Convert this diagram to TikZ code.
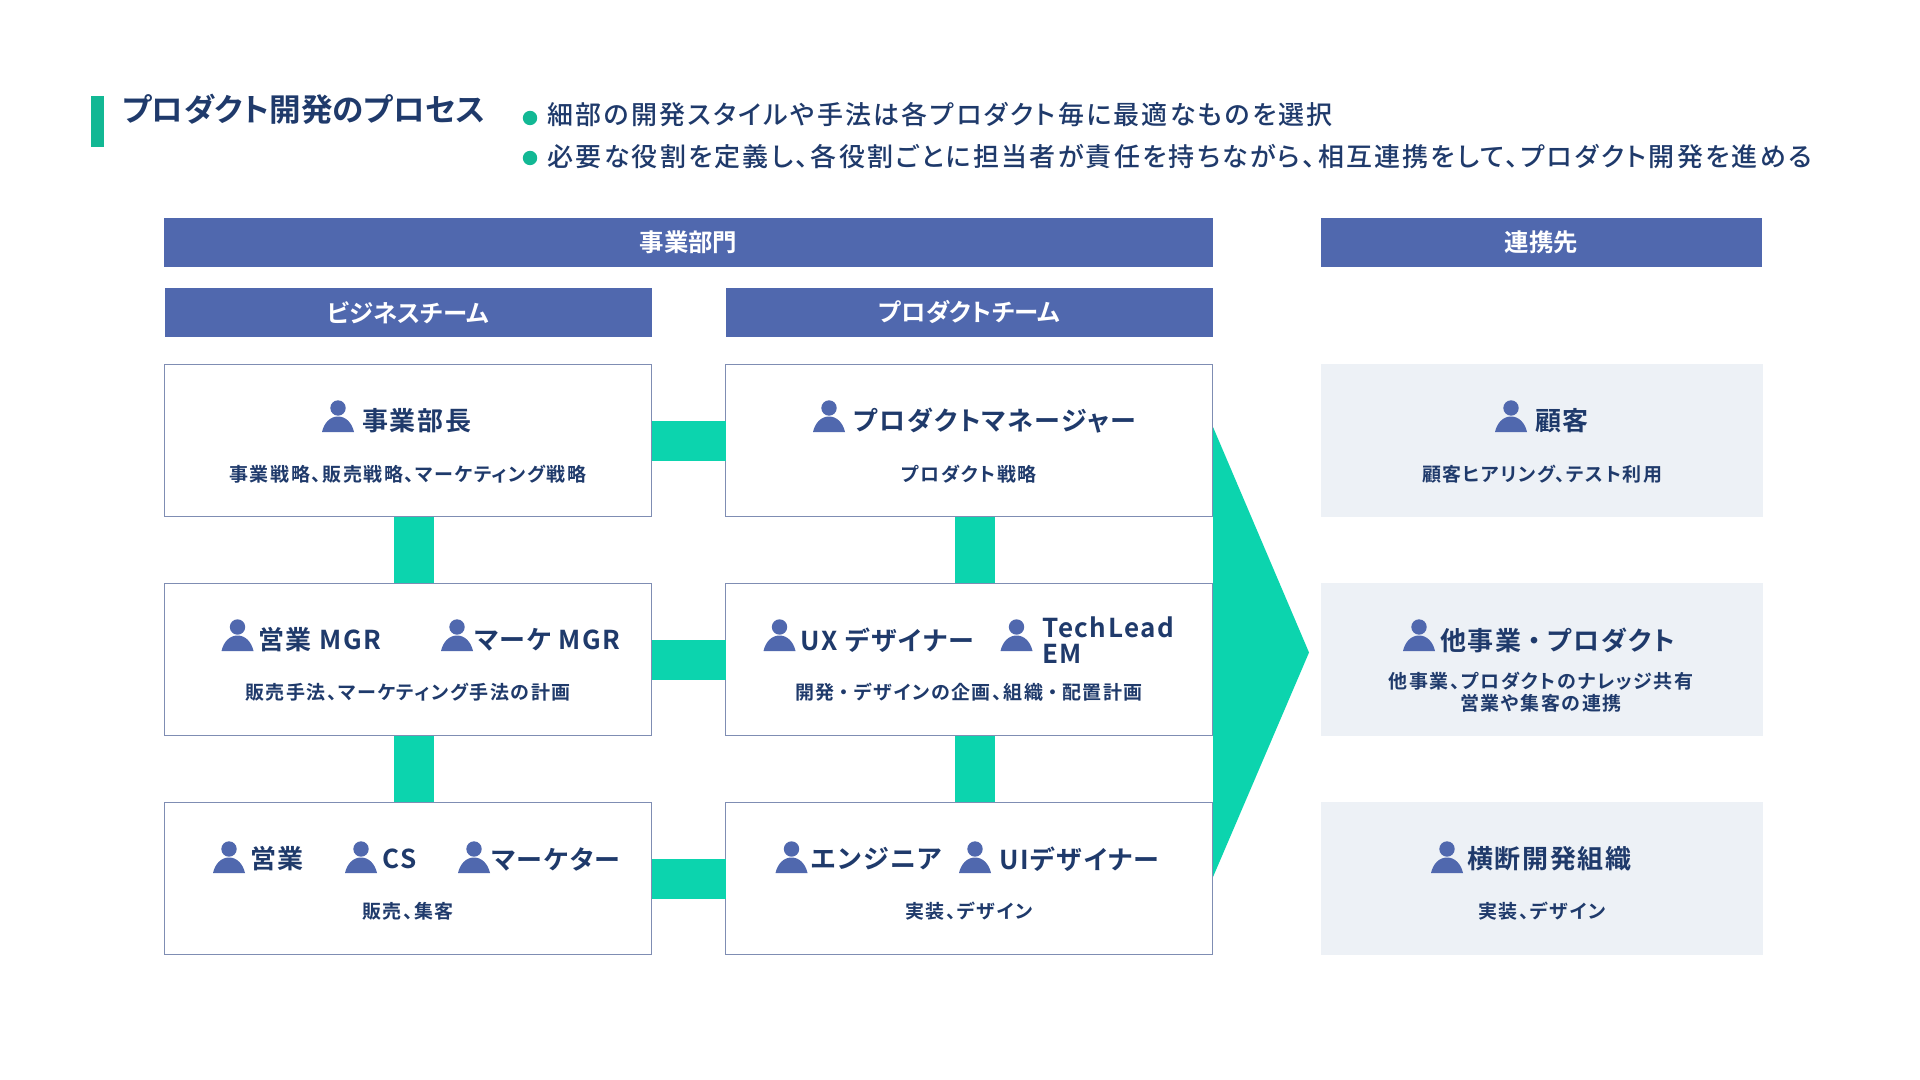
\documentclass[tikz,border=0pt]{standalone}
\usepackage{fontspec}
\setmainfont{Noto Sans CJK JP}[BoldFont={Noto Sans CJK JP Bold},RawFeature=+palt]
\newfontfamily\rolefont{Noto Sans CJK JP}[BoldFont={Noto Sans CJK JP Bold},RawFeature=+palt,LetterSpace=6]
\newfontfamily\pointfont{Noto Sans CJK JP Medium}[RawFeature=+palt,LetterSpace=8.8]
\newfontfamily\dutyfont{Noto Sans CJK JP}[BoldFont={Noto Sans CJK JP Bold},RawFeature=+palt,LetterSpace=8]
\newcommand{\widedot}{\hspace{.25em}・\hspace{.25em}}
\definecolor{navy}{HTML}{1F3A6B}
\definecolor{barblue}{HTML}{5068AE}
\definecolor{mint}{HTML}{0CD4AE}
\definecolor{accent}{HTML}{12B894}
\definecolor{edge}{HTML}{7F8DB3}
\definecolor{pale}{HTML}{EDF1F6}
\tikzset{
  head/.style={fill=barblue,text=white,inner sep=0pt,outer sep=0pt,minimum height=24.5pt,font=\fontsize{12.2}{14}\selectfont\bfseries},
  rolebox/.style={draw=edge,line width=0.5pt,fill=white,inner sep=0pt,outer sep=0pt,minimum width=243.5pt,minimum height=76.25pt},
  partnerbox/.style={fill=pale,inner sep=0pt,outer sep=0pt,minimum width=221pt,minimum height=76.5pt},
  role/.style={anchor=west,inner sep=0pt,text=navy,font=\rolefont\fontsize{13}{13}\selectfont\bfseries},
  duty/.style={inner sep=0pt,text=navy,align=center,font=\dutyfont\fontsize{9.5}{11}\selectfont\bfseries},
  point/.style={anchor=west,inner sep=0pt,text=navy,font=\pointfont\fontsize{13}{13}\selectfont},
  linkbar/.style={mint,line width=20pt},
  person/.pic={
    \fill[barblue] (0,-24) circle (3.85pt);
    \fill[barblue] (-16,0) .. controls (-14,-9) and (-8,-15.5) .. (0,-15.5) .. controls (8,-15.5) and (14,-9) .. (16,0) -- cycle;
  }
}
\begin{document}
\begin{tikzpicture}[x=0.5pt,y=-0.5pt]
  \useasboundingbox (0,0) rectangle (1920,1080);

  \fill[accent] (91,96) rectangle (104,147);
  \node[anchor=west,inner sep=0pt,text=navy,font=\fontsize{15.8}{16}\selectfont\bfseries] (title) at (122,109.5) {プロダクト開発のプロセス};
  \fill[accent] (530,118) circle (3.6pt);
  \fill[accent] (530,158) circle (3.6pt);
  \node[point] (point1) at (547,115) {細部の開発スタイルや手法は各プロダクト毎に最適なものを選択};
  \node[point] (point2) at (547,157) {必要な役割を定義し、各役割ごとに担当者が責任を持ちながら、相互連携をして、プロダクト開発を進める};

  \node[head,minimum width=524.5pt] (dept) at (688.5,242.5) {事業部門};
  \node[head,minimum width=220.5pt] (partner) at (1541.5,242.5) {連携先};
  \node[head,minimum width=243.5pt] (bizteam) at (408,312.5) {ビジネスチーム};
  \node[head,minimum width=243.5pt] (prodteam) at (969.25,312.5) {プロダクトチーム};

  \coordinate (linkl) at (413.5,0);
  \coordinate (linkr) at (974.5,0);
  \coordinate (arrowtop) at (1213,427);
  \coordinate (arrowtip) at (1309,652.5);
  \coordinate (arrowbot) at (1213,877);
  \fill[mint] (arrowtop) -- (arrowtip) -- (arrowbot) -- cycle;

  \node[rolebox] (biz1) at (408,440.5) {};
  \node[rolebox] (biz2) at (408,659.5) {};
  \node[rolebox] (biz3) at (408,878.5) {};
  \node[rolebox] (prod1) at (969.25,440.5) {};
  \node[rolebox] (prod2) at (969.25,659.5) {};
  \node[rolebox] (prod3) at (969.25,878.5) {};
  \node[partnerbox] (part1) at (1542,440.5) {};
  \node[partnerbox] (part2) at (1542,659.5) {};
  \node[partnerbox] (part3) at (1542,878.5) {};

  \draw[linkbar] (biz1.east) -- (prod1.west);
  \draw[linkbar] (biz2.east) -- (prod2.west);
  \draw[linkbar] (biz3.east) -- (prod3.west);
  \draw[linkbar] (biz1.south -| linkl) -- (biz2.north -| linkl);
  \draw[linkbar] (biz2.south -| linkl) -- (biz3.north -| linkl);
  \draw[linkbar] (prod1.south -| linkr) -- (prod2.north -| linkr);
  \draw[linkbar] (prod2.south -| linkr) -- (prod3.north -| linkr);

  % first row
  \pic at (338,432) {person};
  \node[role] (bizlead) at (362,421) {事業部長};
  \node[duty] (bizduty1) at (408,474) {事業戦略、販売戦略、マーケティング戦略};
  \pic at (829,432) {person};
  \node[role] (pm) at (853,421) {プロダクトマネージャー};
  \node[duty] (prodduty1) at (969,474) {プロダクト戦略};
  \pic at (1511,432) {person};
  \node[role] (client) at (1535,421) {顧客};
  \node[duty] (partduty1) at (1542,474) {顧客ヒアリング、テスト利用};

  % second row
  \pic at (237.5,651) {person};
  \node[role] (salesmgr) at (258,640) {営業 MGR};
  \pic at (457,651) {person};
  \node[role] (markemgr) at (474,640) {マーケ MGR};
  \node[duty] (bizduty2) at (408,692) {販売手法、マーケティング手法の計画};
  \pic at (779.5,651) {person};
  \node[role] (uxd) at (800,640) {UX デザイナー};
  \pic at (1016.5,651) {person};
  \node[role,align=left,font=\rolefont\fontsize{13}{12.7}\selectfont\bfseries] (techlead) at (1042,640) {TechLead\\EM};
  \node[duty] (prodduty2) at (969,692) {開発\widedot デザインの企画、組織\widedot 配置計画};
  \pic at (1419,651) {person};
  \node[role] (otherbiz) at (1440,640) {他事業\widedot プロダクト};
  \node[duty] (partduty2) at (1541,692) {他事業、プロダクトのナレッジ共有\\営業や集客の連携};

  % third row
  \pic at (229,873) {person};
  \node[role] (sales) at (250,859) {営業};
  \pic at (361,873) {person};
  \node[role] (cs) at (382,859) {CS};
  \pic at (474,873) {person};
  \node[role] (marketer) at (491,859) {マーケター};
  \node[duty] (bizduty3) at (408,911) {販売、集客};
  \pic at (791.5,873) {person};
  \node[role] (engineer) at (811,859) {エンジニア};
  \pic at (975,873) {person};
  \node[role] (uid) at (999,859) {UIデザイナー};
  \node[duty] (prodduty3) at (969,911) {実装、デザイン};
  \pic at (1447,873) {person};
  \node[role] (crossorg) at (1467,859) {横断開発組織};
  \node[duty] (partduty3) at (1542,911) {実装、デザイン};
\end{tikzpicture}
\end{document}
